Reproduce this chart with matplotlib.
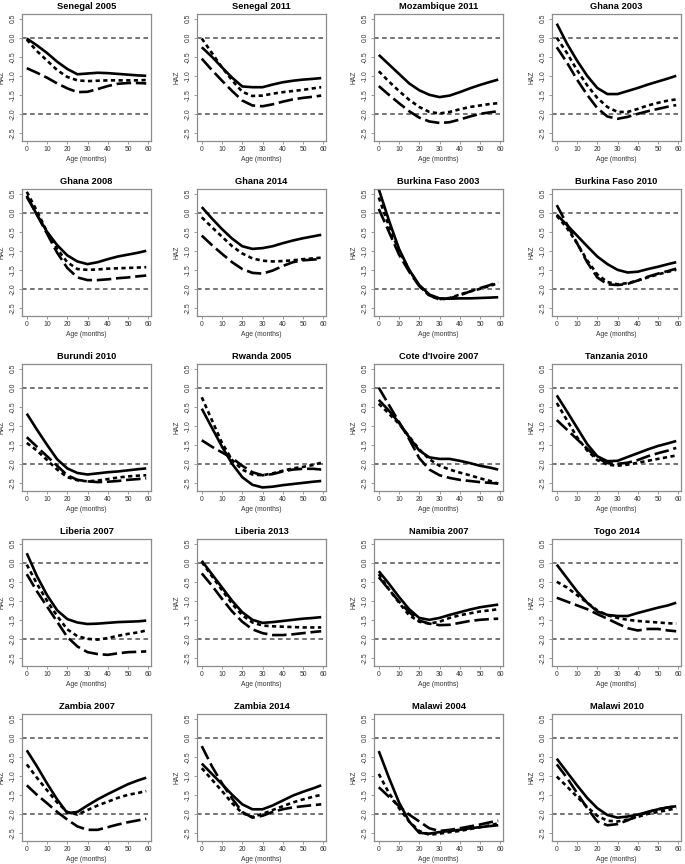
import matplotlib
matplotlib.use("Agg")
import matplotlib.pyplot as plt

plt.rcParams["font.family"] = ["Liberation Sans", "DejaVu Sans"]

ages = [0, 5, 10, 15, 20, 25, 30, 35, 40, 45, 50, 55, 59]

titles = ["Senegal 2005", "Senegal 2011", "Mozambique 2011", "Ghana 2003",
          "Ghana 2008", "Ghana 2014", "Burkina Faso 2003", "Burkina Faso 2010",
          "Burundi 2010", "Rwanda 2005", "Cote d'Ivoire 2007", "Tanzania 2010",
          "Liberia 2007", "Liberia 2013", "Namibia 2007", "Togo 2014",
          "Zambia 2007", "Zambia 2014", "Malawi 2004", "Malawi 2010"]

# solid line
solid = [
    [-0.02, -0.2, -0.4, -0.63, -0.82, -0.96, -0.94, -0.92, -0.93, -0.95, -0.97, -0.99, -1.0],
    [-0.25, -0.5, -0.78, -1.05, -1.28, -1.3, -1.3, -1.23, -1.17, -1.13, -1.1, -1.08, -1.06],
    [-0.45, -0.7, -0.95, -1.2, -1.38, -1.5, -1.56, -1.52, -1.43, -1.33, -1.24, -1.16, -1.1],
    [0.37, -0.15, -0.6, -1.0, -1.32, -1.48, -1.48, -1.4, -1.32, -1.23, -1.15, -1.07, -1.0],
    [0.45, -0.05, -0.5, -0.85, -1.12, -1.28, -1.35, -1.3, -1.22, -1.15, -1.1, -1.05, -1.0],
    [0.15, -0.15, -0.43, -0.68, -0.88, -0.95, -0.93, -0.88, -0.8, -0.73, -0.67, -0.62, -0.58],
    [0.62, -0.2, -0.95, -1.5, -1.9, -2.15, -2.25, -2.26, -2.25, -2.25, -2.24, -2.23, -2.22],
    [-0.05, -0.32, -0.6, -0.88, -1.15, -1.35, -1.5, -1.57, -1.55, -1.48, -1.42, -1.35, -1.3],
    [-0.68, -1.1, -1.5, -1.88, -2.12, -2.24, -2.28, -2.25, -2.22, -2.2, -2.17, -2.14, -2.12],
    [-0.55, -1.05, -1.55, -2.0, -2.35, -2.55, -2.62, -2.6, -2.56, -2.53, -2.5, -2.47, -2.45],
    [-0.32, -0.6, -0.92, -1.3, -1.65, -1.83, -1.87, -1.87, -1.92, -1.98, -2.05, -2.1, -2.15],
    [-0.2, -0.62, -1.05, -1.48, -1.8, -1.93, -1.92, -1.82, -1.72, -1.62, -1.53, -1.46, -1.4],
    [0.25, -0.35, -0.85, -1.25, -1.48, -1.57, -1.61, -1.6, -1.58, -1.56, -1.55, -1.54, -1.52],
    [0.05, -0.3, -0.65, -1.0, -1.3, -1.5, -1.58, -1.56, -1.53, -1.5, -1.47, -1.45, -1.43],
    [-0.22, -0.55, -0.9, -1.22, -1.45, -1.5, -1.45, -1.37, -1.3, -1.23, -1.17, -1.13, -1.1],
    [-0.05, -0.4, -0.75, -1.05, -1.28, -1.37, -1.4, -1.4, -1.32, -1.25, -1.18, -1.12, -1.05],
    [-0.33, -0.75, -1.2, -1.62, -1.98, -1.95, -1.78, -1.62, -1.48, -1.35, -1.22, -1.12, -1.05],
    [-0.68, -0.95, -1.22, -1.5, -1.75, -1.88, -1.88, -1.78, -1.65, -1.52, -1.42, -1.33, -1.25],
    [-0.35, -1.05, -1.7, -2.2, -2.5, -2.52, -2.48, -2.45, -2.42, -2.38, -2.35, -2.32, -2.3],
    [-0.55, -0.9, -1.25, -1.58, -1.85, -2.03, -2.1, -2.07, -2.02, -1.95, -1.88, -1.83, -1.8],
]

# short-dash line
dotted = [
    [-0.05, -0.35, -0.6, -0.85, -1.03, -1.12, -1.14, -1.13, -1.12, -1.12, -1.12, -1.12, -1.11],
    [-0.02, -0.4, -0.78, -1.12, -1.42, -1.53, -1.52, -1.47, -1.43, -1.4, -1.37, -1.33, -1.3],
    [-0.88, -1.15, -1.4, -1.63, -1.82, -1.95, -1.99, -1.95, -1.88, -1.82, -1.78, -1.74, -1.72],
    [0.0, -0.4, -0.85, -1.25, -1.58, -1.82, -1.95, -1.95, -1.87, -1.78, -1.71, -1.65, -1.62],
    [0.55, 0.05, -0.5, -0.95, -1.3, -1.48, -1.5, -1.49, -1.47, -1.46, -1.45, -1.44, -1.43],
    [-0.12, -0.38, -0.63, -0.88, -1.07, -1.2, -1.26, -1.28, -1.27, -1.25, -1.22, -1.2, -1.18],
    [0.4, -0.35, -1.0, -1.5, -1.92, -2.18, -2.27, -2.24, -2.15, -2.07, -2.0, -1.92, -1.85],
    [-0.08, -0.4, -0.8, -1.25, -1.62, -1.82, -1.88, -1.85, -1.78, -1.7, -1.62, -1.55, -1.5],
    [-1.45, -1.65, -1.9, -2.15, -2.35, -2.43, -2.46, -2.44, -2.4, -2.36, -2.33, -2.31, -2.3],
    [-0.25, -0.85, -1.45, -1.9, -2.15, -2.28, -2.3, -2.25, -2.18, -2.12, -2.08, -2.03, -1.97],
    [-0.42, -0.68, -0.95, -1.28, -1.62, -1.88, -2.05, -2.15, -2.23, -2.3, -2.38, -2.45, -2.52],
    [-0.4, -0.85, -1.3, -1.65, -1.9, -2.02, -2.05, -2.02, -1.97, -1.92, -1.87, -1.82, -1.78],
    [-0.05, -0.55, -1.0, -1.4, -1.75, -1.93, -2.0, -2.02, -1.98, -1.92, -1.87, -1.83, -1.78],
    [0.02, -0.35, -0.72, -1.08, -1.38, -1.57, -1.65, -1.67, -1.68, -1.69, -1.7, -1.7, -1.7],
    [-0.3, -0.7, -1.05, -1.38, -1.55, -1.6, -1.55, -1.45, -1.38, -1.33, -1.28, -1.25, -1.22],
    [-0.5, -0.65, -0.85, -1.05, -1.25, -1.38, -1.45, -1.5, -1.53, -1.55, -1.57, -1.59, -1.6],
    [-0.7, -1.05, -1.38, -1.7, -1.95, -2.02, -1.9, -1.78, -1.68, -1.58, -1.5, -1.45, -1.4],
    [-0.8, -1.1, -1.4, -1.72, -1.98, -2.08, -2.0, -1.9, -1.8, -1.7, -1.62, -1.55, -1.5],
    [-0.95, -1.45, -1.85, -2.2, -2.45, -2.55, -2.52, -2.48, -2.45, -2.4, -2.35, -2.3, -2.25],
    [-1.02, -1.28, -1.55, -1.82, -2.05, -2.18, -2.2, -2.15, -2.08, -2.0, -1.95, -1.9, -1.85],
]

# long-dash line
longdash = [
    [-0.8, -0.92, -1.05, -1.2, -1.33, -1.43, -1.42, -1.35, -1.27, -1.21, -1.19, -1.19, -1.2],
    [-0.55, -0.85, -1.13, -1.4, -1.65, -1.78, -1.8, -1.75, -1.68, -1.62, -1.58, -1.55, -1.52],
    [-1.27, -1.5, -1.72, -1.93, -2.1, -2.2, -2.24, -2.22, -2.15, -2.07, -2.0, -1.96, -1.93],
    [-0.25, -0.65, -1.1, -1.5, -1.85, -2.07, -2.13, -2.08, -2.0, -1.93, -1.87, -1.81, -1.77],
    [0.42, -0.05, -0.55, -1.05, -1.45, -1.7, -1.77, -1.77, -1.75, -1.72, -1.7, -1.67, -1.65],
    [-0.6, -0.85, -1.08, -1.3, -1.48, -1.58, -1.6, -1.52, -1.4, -1.3, -1.25, -1.23, -1.22],
    [0.1, -0.5, -1.1, -1.55, -1.93, -2.17, -2.28, -2.25, -2.17, -2.07, -1.98, -1.9, -1.82],
    [0.2, -0.3, -0.8, -1.3, -1.7, -1.88, -1.9, -1.87, -1.78, -1.68, -1.6, -1.53, -1.47],
    [-1.3, -1.55, -1.8, -2.05, -2.3, -2.42, -2.46, -2.48, -2.47, -2.45, -2.42, -2.4, -2.38],
    [-1.38, -1.55, -1.7, -1.85, -2.05, -2.22, -2.3, -2.27, -2.2, -2.15, -2.13, -2.13, -2.15],
    [0.0, -0.45, -0.9, -1.35, -1.85, -2.15, -2.3, -2.37, -2.42, -2.45, -2.48, -2.5, -2.52],
    [-0.85, -1.1, -1.35, -1.6, -1.85, -1.98, -2.0, -1.97, -1.9, -1.8, -1.72, -1.65, -1.58],
    [-0.3, -0.75, -1.15, -1.55, -1.95, -2.2, -2.35, -2.4, -2.42, -2.38, -2.35, -2.34, -2.33],
    [-0.28, -0.6, -0.95, -1.28, -1.55, -1.75, -1.85, -1.9, -1.9, -1.88, -1.85, -1.82, -1.8],
    [-0.38, -0.7, -1.02, -1.3, -1.52, -1.6, -1.64, -1.63, -1.58, -1.53, -1.5, -1.48, -1.47],
    [-0.92, -1.02, -1.12, -1.22, -1.35, -1.47, -1.6, -1.72, -1.78, -1.74, -1.74, -1.78, -1.8],
    [-1.25, -1.5, -1.72, -1.95, -2.15, -2.33, -2.42, -2.42, -2.35, -2.28, -2.22, -2.17, -2.13],
    [-0.22, -0.75, -1.2, -1.6, -1.95, -2.1, -2.05, -1.95, -1.88, -1.83, -1.8, -1.77, -1.75],
    [-1.3, -1.55, -1.8, -2.02, -2.2, -2.38, -2.45, -2.42, -2.38, -2.33, -2.28, -2.22, -2.18],
    [-0.7, -1.05, -1.45, -1.85, -2.2, -2.3, -2.27, -2.17, -2.05, -1.95, -1.88, -1.83, -1.8],
]

yticks = [-2.5, -2.0, -1.5, -1.0, -0.5, 0.0, 0.5]
xticks = [0, 10, 20, 30, 40, 50, 60]

W, H = 685, 864
fig = plt.figure(figsize=(W / 100, H / 100), dpi=100)

col_left = [22, 197, 374, 552]
ax_w, ax_h = 129, 127.4
frame = "#8c8c8c"

for i, title in enumerate(titles):
    r, c = divmod(i, 4)
    top = 14 + 175.0 * r
    ax = fig.add_axes([col_left[c] / W, 1 - (top + ax_h) / H, ax_w / W, ax_h / H])

    # reference lines at 0 and -2
    for yref in (0.0, -2.0):
        ax.axhline(yref, color="#4d4d4d", lw=1.1, dashes=(3, 2.3))

    ax.plot(ages, solid[i], color="k", lw=1.9, solid_capstyle="butt")
    ax.plot(ages, dotted[i], color="k", lw=1.9, dashes=(1.6, 1.3))
    ax.plot(ages, longdash[i], color="k", lw=1.9, dashes=(5.5, 1.8))

    ax.set_xlim(-2.36, 61.36)
    ax.set_ylim(-2.724, 0.624)
    ax.set_xticks(xticks)
    ax.set_yticks(yticks)
    ax.set_yticklabels([f"{v:.1f}" for v in yticks], rotation=90, va="center")
    ax.tick_params(labelsize=4.9, length=2, width=0.6, pad=1.5,
                   color=frame, labelcolor="#333333")
    for s in ax.spines.values():
        s.set_color(frame)
        s.set_linewidth(0.9)

    ax.set_title(title, fontsize=6.7, fontweight="bold", pad=3.5)
    ax.set_xlabel("Age (months)", fontsize=4.9, color="#333333", labelpad=2)
    ax.set_ylabel("HAZ", fontsize=4.9, color="#333333", labelpad=3)

fig.savefig("out.png", dpi=100)
